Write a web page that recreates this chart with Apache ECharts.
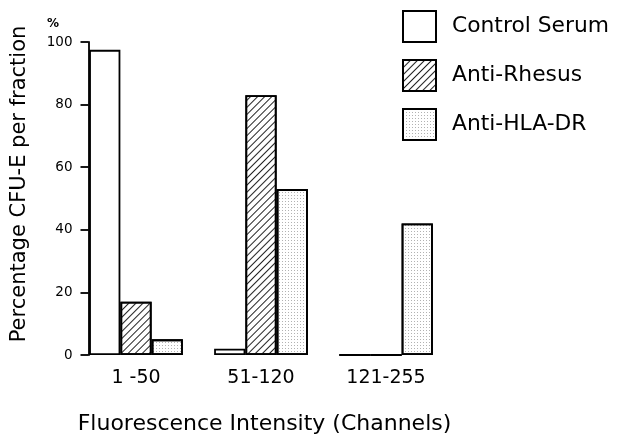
<!DOCTYPE html>
<html lang="en">
<head>
  <meta charset="UTF-8">
  <script type="text/javascript" src="https://cdn.jsdelivr.net/npm/echarts@6/dist/echarts.min.js"></script>
  <title>CFU-E per fraction</title>
  <style type="text/css">
    * {
      margin: 0;
      padding: 0;
    }

    html, body {
      width: 100%;
      height: 100%;
      background: #fff;
    }

    #chartbox {
      width: 624px;
      height: 434px;
    }
  </style>
</head>

<body>
<div id="chartbox"></div>
</body>
<script type="text/javascript">
  // data
  let categories = ['1 -50', '51-120', '121-255']
  let controlSerum = [97.5, 2, 0]
  let antiRhesus = [17, 83, 0]
  let antiHlaDr = [5, 53, 42]
  let yTicks = [0, 20, 40, 60, 80, 100]

  let font = 'DejaVu Sans'
  let myChart = echarts.init(document.getElementById('chartbox'))

  // shared bar look
  function barStyle(decal) {
    let s = {
      color: '#fff',
      borderColor: '#000',
      borderWidth: 1.8
    }
    if (decal) s.decal = decal
    return s
  }

  let hatch = {
    symbol: 'rect',
    symbolSize: 1,
    color: '#222',
    dashArrayX: [1, 0],
    dashArrayY: [0.9, 4],
    rotation: -Math.PI / 4
  }
  let stipple = {
    symbol: 'rect',
    symbolSize: 1,
    color: 'rgba(0,0,0,0.3)',
    dashArrayX: [1, 1.6],
    dashArrayY: [1, 1.6]
  }

  let option = {
    backgroundColor: '#fff',
    animation: false,
    textStyle: {
      fontFamily: font,
      color: '#000'
    },
    grid: {
      left: 73.5,
      width: 375,
      top: 42,
      bottom: 79,
      outerBoundsMode: 'none',
      containLabel: false
    },
    legend: {
      orient: 'vertical',
      left: 402,
      top: 10,
      padding: 0,
      icon: 'rect',
      itemWidth: 33,
      itemHeight: 31,
      itemGap: 16,
      textStyle: {
        fontFamily: font,
        fontSize: 21.8,
        color: '#000',
        padding: [0, 0, 0, 11]
      },
      data: ['Control Serum', 'Anti-Rhesus', 'Anti-HLA-DR']
    },
    xAxis: {
      type: 'category',
      data: categories,
      name: 'Fluorescence Intensity (Channels)',
      nameLocation: 'middle',
      nameGap: 58,
      nameTextStyle: {
        fontFamily: font,
        fontSize: 22,
        color: '#000',
        padding: [0, 0, 0, 7]
      },
      axisLine: {show: false},
      axisTick: {show: false},
      axisLabel: {
        fontFamily: font,
        fontSize: 19,
        color: '#000',
        margin: 14
      }
    },
    yAxis: {
      type: 'value',
      min: 0,
      max: 100,
      interval: 20,
      offset: -15,
      splitLine: {show: false},
      axisLine: {
        show: true,
        lineStyle: {color: '#000', width: 1.8}
      },
      axisTick: {
        show: true,
        length: 8,
        lineStyle: {color: '#000', width: 1.8}
      },
      axisLabel: {
        fontFamily: font,
        fontSize: 13.5,
        color: '#000',
        margin: 16,
        formatter: function (v) {
          return yTicks.indexOf(v) > -1 ? String(v) : ''
        }
      }
    },
    graphic: [
      {
        type: 'text',
        x: 20,
        y: 184,
        rotation: Math.PI / 2,
        style: {
          text: 'Percentage CFU-E per fraction',
          fontFamily: font,
          fontSize: 21,
          fill: '#000',
          textAlign: 'center',
          textVerticalAlign: 'middle'
        }
      },
      {
        type: 'text',
        x: 53,
        y: 24,
        style: {
          text: '%',
          fontFamily: font,
          fontSize: 12,
          fontWeight: 'bold',
          fill: '#000',
          textAlign: 'center',
          textVerticalAlign: 'middle'
        }
      }
    ],
    series: [
      {
        name: 'Control Serum',
        type: 'bar',
        barGap: 0,
        barCategoryGap: '25%',
        itemStyle: barStyle(null),
        data: controlSerum
      },
      {
        name: 'Anti-Rhesus',
        type: 'bar',
        barGap: 0,
        barCategoryGap: '25%',
        itemStyle: barStyle(hatch),
        data: antiRhesus
      },
      {
        name: 'Anti-HLA-DR',
        type: 'bar',
        barGap: 0,
        barCategoryGap: '25%',
        itemStyle: barStyle(stipple),
        data: antiHlaDr
      }
    ]
  }

  myChart.setOption(option)
</script>
</html>
